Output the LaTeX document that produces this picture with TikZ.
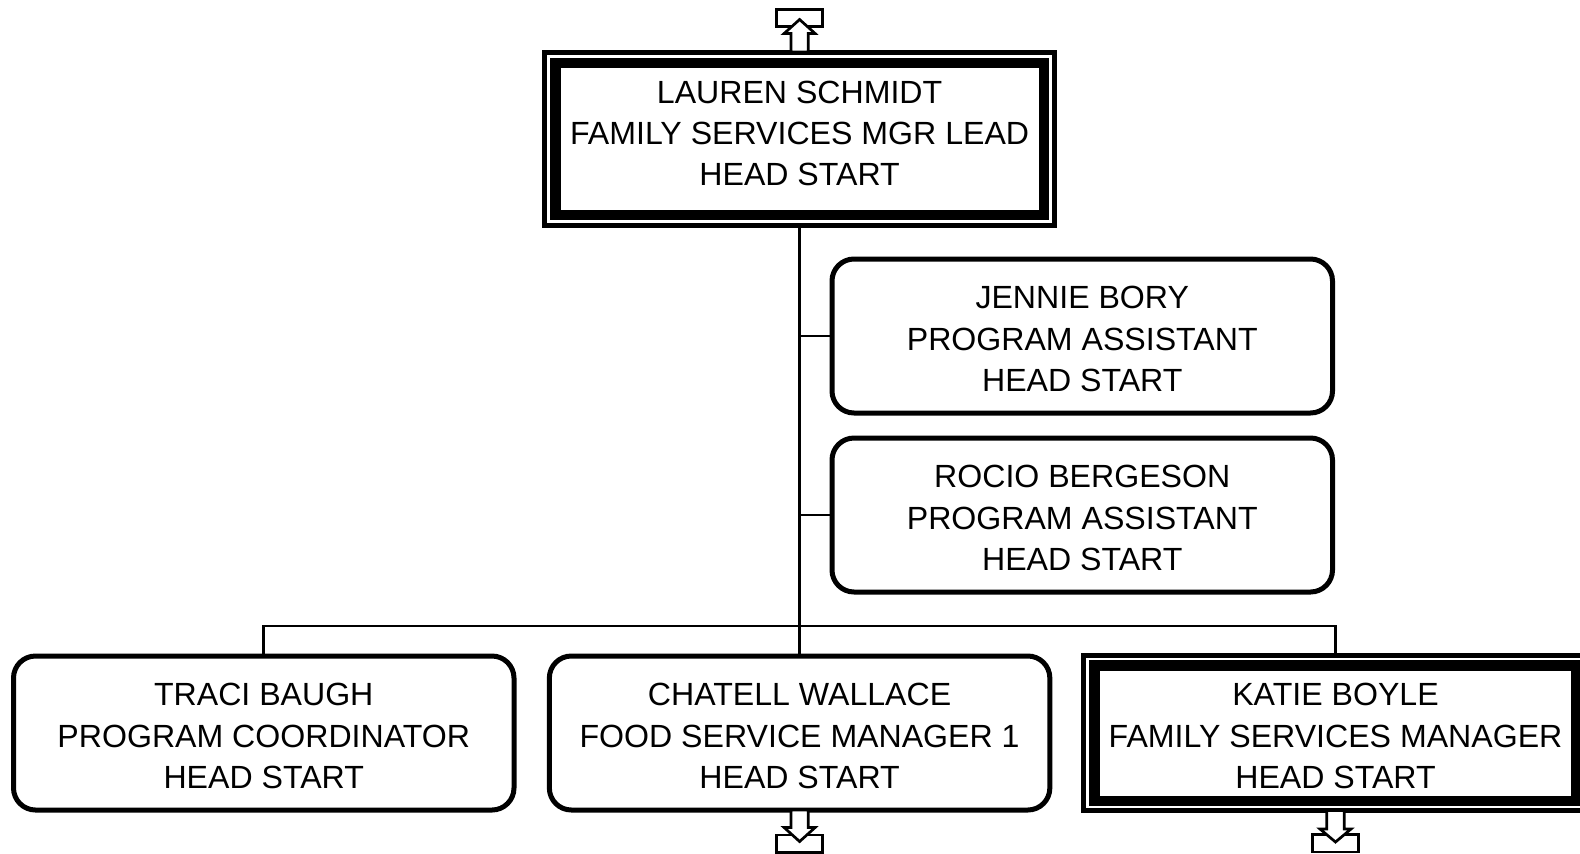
\documentclass[tikz,border=0pt]{standalone}
\usepackage{fontspec}
\setmainfont{Liberation Sans}
\begin{document}
\begin{tikzpicture}[x=0.5pt,y=-0.5pt,
  every node/.style={outer sep=0pt},
  txt/.style={align=center, inner sep=0pt, font=\fontsize{16.05pt}{20.65pt}\selectfont},
  box/.style={draw, line width=2.5pt, rounded corners=11pt, minimum width=250.25pt, minimum height=77pt, inner sep=0pt},
  dbox/.style={draw, line width=2.5pt, inner sep=0pt},
  thickline/.style={line width=5.25pt},
  conn/.style={line width=1.3pt},
  flagline/.style={draw, line width=1.35pt, fill=white, line join=miter}
]
\useasboundingbox (0,0) rectangle (1580,853);
\clip (0,0) rectangle (1580,853);
\fill[white] (0,0) rectangle (1580,853);

% top box
\node[dbox, minimum width=254.9pt, minimum height=86.75pt] (top) at (799.6,138.75) {};
\draw[thickline] ([shift={(11,11)}]top.north west) rectangle ([shift={(-10.5,-10.5)}]top.south east);
\node[txt] (toptext) at (799.6,133.5) {LAUREN SCHMIDT\\FAMILY SERVICES MGR LEAD\\HEAD START};

% assistants
\node[box] (jennie) at (1082.25,336) {};
\node[txt] (jennietext) at (1082.25,339) {JENNIE BORY\\PROGRAM ASSISTANT\\HEAD START};
\node[box] (rocio) at (1082.25,515) {};
\node[txt] (rociotext) at (1082.25,518) {ROCIO BERGESON\\PROGRAM ASSISTANT\\HEAD START};

% bottom row
\node[box] (traci) at (263.75,733) {};
\node[txt] (tracitext) at (263.75,736) {TRACI BAUGH\\PROGRAM COORDINATOR\\HEAD START};
\node[box] (chatell) at (799.6,733) {};
\node[txt] (chatelltext) at (799.6,736) {CHATELL WALLACE\\FOOD SERVICE MANAGER 1\\HEAD START};
\node[dbox, minimum width=252.2pt, minimum height=77.75pt] (katie) at (1335.5,732.75) {};
\draw[thickline] ([shift={(11,10.5)}]katie.north west) rectangle ([shift={(-11,-9.5)}]katie.south east);
\node[txt] (katietext) at (1335.5,736) {KATIE BOYLE\\FAMILY SERVICES MANAGER\\HEAD START};

% connectors
\draw[conn] (top.south) -- (chatell.north);
\draw[conn] (traci.north) -- ++(0,-30) -| (katie.north);
\draw[conn] (jennie.west) -- (jennie.west -| top.south);
\draw[conn] (rocio.west) -- (rocio.west -| top.south);

% up arrow above top box
\begin{scope}[shift={(top.north)}]
  \draw[flagline] (-23,-42.5) rectangle (23,-25.5);
  \draw[flagline] (-8.7,0) -- (-8.7,-18.5) -- (-15.5,-18.5) -- (0,-32.5) -- (15.5,-18.5) -- (8.7,-18.5) -- (8.7,0) -- cycle;
\end{scope}

% down arrows
\begin{scope}[shift={(chatell.south)}]
  \draw[flagline] (-23,25) rectangle (23,42.5);
  \draw[flagline] (-8.7,0) -- (-8.7,17.5) -- (-15.5,17.5) -- (0,31.5) -- (15.5,17.5) -- (8.7,17.5) -- (8.7,0) -- cycle;
\end{scope}
\begin{scope}[shift={(katie.south)}]
  \draw[flagline] (-23,24) rectangle (23,41.5);
  \draw[flagline] (-8.7,0) -- (-8.7,18.5) -- (-15.5,18.5) -- (0,31.5) -- (15.5,18.5) -- (8.7,18.5) -- (8.7,0) -- cycle;
\end{scope}
\end{tikzpicture}
\end{document}
